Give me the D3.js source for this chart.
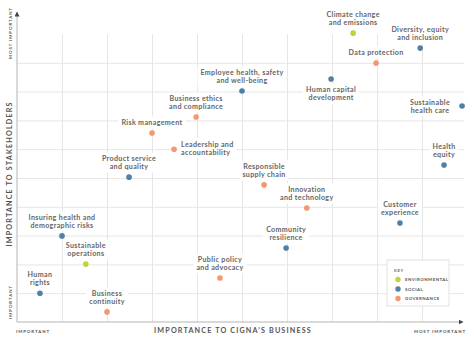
<!DOCTYPE html>
<html>
<head>
<meta charset="utf-8">
<script src="https://cdn.jsdelivr.net/npm/d3@7"></script>
<style>
  html, body { margin: 0; padding: 0; background: #fff; }
  svg { display: block; font-family: Lato, "Open Sans", sans-serif; }
</style>
</head>
<body>
<div id="chart"></div>
<script>
const WIDTH = 474;
const HEIGHT = 339;

// topics, in drawing order
const topics = [
  'Climate change\nand emissions',
  'Diversity, equity\nand inclusion',
  'Data protection',
  'Human capital\ndevelopment',
  'Sustainable\nhealth care',
  'Employee health, safety\nand well-being',
  'Business ethics\nand compliance',
  'Risk management',
  'Leadership and\naccountability',
  'Product service\nand quality',
  'Responsible\nsupply chain',
  'Innovation\nand technology',
  'Health\nequity',
  'Customer\nexperience',
  'Insuring health and\ndemographic risks',
  'Sustainable\noperations',
  'Human\nrights',
  'Business\ncontinuity',
  'Community\nresilience',
  'Public policy\nand advocacy',
];
// importance to business (x) and to stakeholders (y), 0..10
const businessScore = [7.47, 8.96, 7.98, 6.98, 9.89, 5.0, 3.98, 3.0, 3.49, 2.49, 5.49, 6.44, 9.49, 8.51, 1.0, 1.53, 0.51, 2.0, 5.98, 4.51];
const stakeholderScore = [10.03, 9.51, 8.99, 8.44, 7.5, 8.02, 7.12, 6.56, 6.0, 5.03, 4.76, 3.96, 5.45, 3.44, 2.99, 2.01, 1.0, 0.35, 2.57, 1.53];
const category = ['env', 'soc', 'gov', 'soc', 'soc', 'soc', 'gov', 'gov', 'gov', 'soc', 'gov', 'gov', 'soc', 'soc', 'soc', 'env', 'soc', 'gov', 'soc', 'gov'];
// which side of the dot the label sits on
const labelSide = ['top', 'top', 'top', 'bottom', 'left', 'top', 'top', 'top', 'right', 'top', 'top', 'top', 'top', 'top', 'top', 'top', 'top', 'top', 'top', 'top'];

const keyIds = ['env', 'soc', 'gov'];
const keyNames = ['ENVIRONMENTAL', 'SOCIAL', 'GOVERNANCE'];
const keyColors = ['#bdd43a', '#4f80a5', '#f39870'];

const margin = { top: 34, right: 7, bottom: 17, left: 17 };
const innerW = WIDTH - margin.left - margin.right;
const innerH = HEIGHT - margin.top - margin.bottom;

const color = d3.scaleOrdinal().domain(keyIds).range(keyColors);

const svg = d3
  .select('#chart')
  .append('svg')
  .attr('width', WIDTH)
  .attr('height', HEIGHT);

const g = svg.append('g').attr('transform', `translate(${margin.left}, ${margin.top})`);

const x = d3.scaleLinear().domain([0, 10]).range([0, innerW]);
const y = d3.scaleLinear().domain([0, 10]).range([innerH, 0]);
const gridTicks = d3.range(1, 10);

// grid
g.append('g')
  .attr('class', 'grid-x')
  .attr('transform', `translate(0, ${innerH})`)
  .call(d3.axisBottom(x).tickValues(gridTicks).tickSize(-innerH).tickFormat(''))
  .call((s) => s.select('.domain').remove())
  .selectAll('line')
  .attr('stroke', '#e6e6e6');

g.append('g')
  .attr('class', 'grid-y')
  .call(d3.axisLeft(y).tickValues(gridTicks).tickSize(-(innerW - 3)).tickFormat(''))
  .call((s) => s.select('.domain').remove())
  .selectAll('line')
  .attr('stroke', '#e6e6e6');

// axes with arrowheads
const defs = svg.append('defs');
defs.append('marker')
  .attr('id', 'arrow')
  .attr('viewBox', '0 0 10 10')
  .attr('refX', 9)
  .attr('refY', 5)
  .attr('markerWidth', 5)
  .attr('markerHeight', 5)
  .attr('markerUnits', 'userSpaceOnUse')
  .attr('orient', 'auto')
  .append('path')
  .attr('d', 'M0,0L10,5L0,10Z')
  .attr('fill', '#444');

g.append('line')
  .attr('x1', 0).attr('y1', innerH)
  .attr('x2', innerW - 4).attr('y2', innerH)
  .attr('stroke', '#b5b5b5')
  .attr('marker-end', 'url(#arrow)');

g.append('line')
  .attr('x1', 0).attr('y1', innerH)
  .attr('x2', 0).attr('y2', -22)
  .attr('stroke', '#b5b5b5')
  .attr('marker-end', 'url(#arrow)');

// axis titles
const small = { size: 4.4, spacing: 0.9, fill: '#555' };
svg.append('text')
  .attr('x', margin.left - 1)
  .attr('y', 333)
  .attr('font-size', small.size)
  .attr('font-weight', 700)
  .attr('letter-spacing', small.spacing)
  .attr('fill', small.fill)
  .text('IMPORTANT');

svg.append('text')
  .attr('x', 466)
  .attr('y', 333)
  .attr('text-anchor', 'end')
  .attr('font-size', small.size)
  .attr('font-weight', 700)
  .attr('letter-spacing', small.spacing)
  .attr('fill', small.fill)
  .text('MOST IMPORTANT');

svg.append('text')
  .attr('x', 233)
  .attr('y', 332.5)
  .attr('text-anchor', 'middle')
  .attr('font-size', 7.2)
  .attr('font-weight', 700)
  .attr('letter-spacing', 1.15)
  .attr('fill', '#555')
  .text('IMPORTANCE TO CIGNA’S BUSINESS');

svg.append('text')
  .attr('transform', 'translate(11.5, 33) rotate(-90)')
  .attr('text-anchor', 'middle')
  .attr('font-size', small.size)
  .attr('font-weight', 700)
  .attr('letter-spacing', small.spacing)
  .attr('fill', small.fill)
  .text('MOST IMPORTANT');

svg.append('text')
  .attr('transform', 'translate(11.5, 302) rotate(-90)')
  .attr('text-anchor', 'middle')
  .attr('font-size', small.size)
  .attr('font-weight', 700)
  .attr('letter-spacing', small.spacing)
  .attr('fill', small.fill)
  .text('IMPORTANT');

svg.append('text')
  .attr('transform', 'translate(11.5, 174) rotate(-90)')
  .attr('text-anchor', 'middle')
  .attr('font-size', 7.2)
  .attr('font-weight', 700)
  .attr('letter-spacing', 1.15)
  .attr('fill', '#555')
  .text('IMPORTANCE TO STAKEHOLDERS');

// labels (drawn first with a white backing so they mask the grid)
const data = topics.map((t, i) => ({
  name: t,
  x: businessScore[i],
  y: stakeholderScore[i],
  cat: category[i],
  side: labelSide[i],
}));

const LINE = 8;
const labels = g.append('g').attr('class', 'labels');

data.forEach((d) => {
  const lines = d.name.split('\n');
  const cx = x(d.x);
  const cy = y(d.y);
  let anchor = 'middle';
  let tx = cx;
  let firstBase;
  if (d.side === 'top') {
    firstBase = cy - 8 - (lines.length - 1) * LINE;
  } else if (d.side === 'bottom') {
    firstBase = cy + 13.5;
  } else if (d.side === 'left') {
    anchor = 'middle';
    tx = cx - 32;
    firstBase = cy - 1.5;
  } else {
    anchor = 'start';
    tx = cx + 7;
    firstBase = cy - 2.5;
  }
  const lg = labels.append('g');
  const bg = lg.append('rect').attr('fill', '#fff');
  const text = lg.append('text')
    .attr('text-anchor', anchor)
    .attr('font-size', 7.1)
    .attr('font-weight', 700)
    .attr('letter-spacing', 0.35)
    .attr('fill', '#666');
  lines.forEach((l, k) => {
    text.append('tspan')
      .attr('x', tx)
      .attr('y', firstBase + k * LINE)
      .text(l);
  });
  const bb = text.node().getBBox();
  bg.attr('x', bb.x - 3)
    .attr('y', bb.y - 1.5)
    .attr('width', bb.width + 6)
    .attr('height', bb.height + 3);
});

// dots
g.append('g')
  .selectAll('circle')
  .data(data)
  .join('circle')
  .attr('cx', (d) => x(d.x))
  .attr('cy', (d) => y(d.y))
  .attr('r', 2.8)
  .attr('fill', (d) => color(d.cat));

// key
const key = svg.append('g').attr('transform', 'translate(387, 260)');
key.append('rect')
  .attr('width', 62)
  .attr('height', 46)
  .attr('fill', '#fff')
  .attr('stroke', '#e2e2e2');
key.append('text')
  .attr('x', 7)
  .attr('y', 12)
  .attr('font-size', 4.2)
  .attr('font-weight', 700)
  .attr('letter-spacing', 0.6)
  .attr('fill', '#666')
  .text('KEY');
const rows = key.selectAll('g.row')
  .data(keyIds)
  .join('g')
  .attr('class', 'row')
  .attr('transform', (d, i) => `translate(11, ${19.5 + i * 9.5})`);
rows.append('circle')
  .attr('r', 2.7)
  .attr('fill', (d) => color(d));
rows.append('text')
  .attr('x', 7)
  .attr('y', 1.6)
  .attr('font-size', 4.4)
  .attr('font-weight', 700)
  .attr('letter-spacing', 0.45)
  .attr('fill', '#555')
  .text((d, i) => keyNames[i]);
</script>
</body>
</html>
